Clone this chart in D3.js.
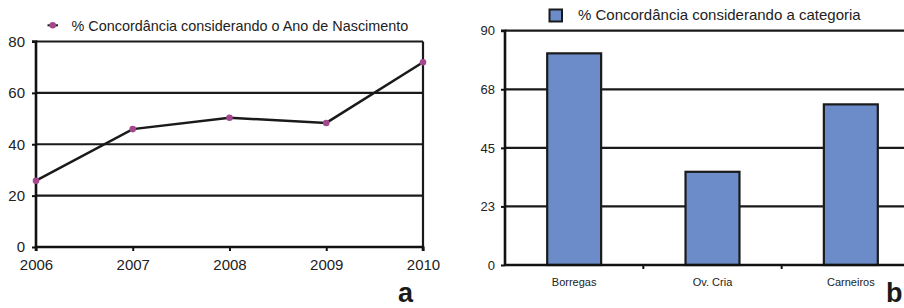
<!DOCTYPE html>
<html><head><meta charset="utf-8">
<script src="https://cdn.jsdelivr.net/npm/d3@7"></script>
<style>body{margin:0;background:#fff}svg{display:block;font-family:Arial,"Liberation Sans",sans-serif}</style>
</head><body><svg id="c" width="904" height="308"></svg>
<script>
const years = [2006, 2007, 2008, 2009, 2010];
const yearValues = [25.8, 45.9, 50.3, 48.3, 71.9];
const leftTicks = [0, 20, 40, 60, 80];
const leftLegend = "% Concordância considerando o Ano de Nascimento";

const categories = ["Borregas", "Ov. Cria", "Carneiros"];
const catValues = [81.3, 35.8, 61.7];
const rightTicks = [0, 22.5, 45, 67.5, 90];
const rightTickLabels = ["0", "23", "45", "68", "90"];
const rightLegend = "% Concordância considerando a categoria";

const svg = d3.select("#c");
const txt = "#222";

// ----- Left chart (a) -----
const xa = d3.scalePoint().domain(years).range([36, 423]);
const ya = d3.scaleLinear().domain([0, 80]).range([247, 41.5]);
const ga = svg.append("g");
ga.selectAll("line.g").data(leftTicks.slice(1)).join("line")
  .attr("x1", 36).attr("x2", 423).attr("y1", d => ya(d)).attr("y2", d => ya(d))
  .attr("stroke", "#1a1a1a").attr("stroke-width", 2.2);
ga.append("line").attr("x1", 423).attr("x2", 423).attr("y1", ya(80)).attr("y2", ya(0))
  .attr("stroke", "#1a1a1a").attr("stroke-width", 2.2);
const axLeft = ga.append("g").attr("transform", "translate(36,0)")
  .call(d3.axisLeft(ya).tickValues(leftTicks).tickSize(4).tickPadding(7));
const axBot = ga.append("g").attr("transform", `translate(0,${ya(0)})`)
  .call(d3.axisBottom(xa).tickSize(4).tickPadding(6).tickFormat(d3.format("d")));
[axLeft, axBot].forEach(a => {
  a.select(".domain").attr("stroke", "#111").attr("stroke-width", 2.6);
  a.selectAll(".tick line").attr("stroke", "#111").attr("stroke-width", 2);
  a.selectAll("text").attr("fill", txt).style("font-size", "15px");
});
axLeft.select(".domain").attr("d", `M-4,${ya(80)}H0V${ya(0)}`);
axBot.select(".domain").attr("d", `M36,4V0H423V4`);
axBot.selectAll("text").attr("dy", "0.85em");
ga.append("path").datum(years.map((y, i) => [y, yearValues[i]]))
  .attr("fill", "none").attr("stroke", "#1a1a1a").attr("stroke-width", 2.5)
  .attr("d", d3.line().x(d => xa(d[0])).y(d => ya(d[1])));
ga.selectAll("circle").data(years.map((y, i) => [y, yearValues[i]])).join("circle")
  .attr("cx", d => xa(d[0])).attr("cy", d => ya(d[1])).attr("r", 3.3)
  .attr("fill", "#a3478f");
// legend
ga.append("line").attr("x1", 47.5).attr("x2", 58).attr("y1", 25.3).attr("y2", 25.3)
  .attr("stroke", "#1a1a1a").attr("stroke-width", 2);
ga.append("circle").attr("cx", 52.7).attr("cy", 25.3).attr("r", 3.3).attr("fill", "#a3478f");
ga.append("text").attr("x", 71.5).attr("y", 30.8).attr("fill", txt)
  .style("font-size", "14.4px").text(leftLegend);
ga.append("text").attr("x", 398).attr("y", 302).attr("fill", "#1a1a1a")
  .style("font-size", "27px").style("font-weight", "bold").text("a");

// ----- Right chart (b) -----
const xb = d3.scaleBand().domain(categories).range([505, 920]).paddingInner(0.61).paddingOuter(0.305);
const yb = d3.scaleLinear().domain([0, 90]).range([265, 30.7]);
const gb = svg.append("g");
gb.selectAll("line.g").data(rightTicks.slice(1)).join("line")
  .attr("x1", 505).attr("x2", 920).attr("y1", d => yb(d)).attr("y2", d => yb(d))
  .attr("stroke", "#1a1a1a").attr("stroke-width", 2.2);
gb.selectAll("rect").data(categories).join("rect")
  .attr("x", d => xb(d)).attr("width", xb.bandwidth())
  .attr("y", (d, i) => yb(catValues[i])).attr("height", (d, i) => yb(0) - yb(catValues[i]))
  .attr("fill", "#6b8cc8").attr("stroke", "#1a1a1a").attr("stroke-width", 2.2);
const bLeft = gb.append("g").attr("transform", "translate(505,0)")
  .call(d3.axisLeft(yb).tickValues(rightTicks).tickFormat((d, i) => rightTickLabels[i]).tickSize(4).tickPadding(6));
const catX = d3.scaleLinear().domain([0, 3]).range([505, 920]);
const bBot = gb.append("g").attr("transform", `translate(0,${yb(0)})`);
bBot.append("path").attr("d", `M505,0H920`).attr("stroke", "#111").attr("stroke-width", 2.6).attr("fill", "none");
bBot.selectAll("line").data([1, 2]).join("line")
  .attr("x1", d => catX(d)).attr("x2", d => catX(d)).attr("y1", 0).attr("y2", 4)
  .attr("stroke", "#111").attr("stroke-width", 2);
bBot.selectAll("text").data(categories).join("text")
  .attr("x", d => xb(d) + xb.bandwidth() / 2).attr("y", 21).attr("text-anchor", "middle")
  .attr("fill", txt).style("font-size", "11px").text(d => d);
bLeft.select(".domain").attr("stroke", "#111").attr("stroke-width", 2.6).attr("d", `M-4,${yb(90)}H0V${yb(0)}`);
bLeft.selectAll(".tick line").attr("stroke", "#111").attr("stroke-width", 2);
bLeft.selectAll("text").attr("fill", txt).style("font-size", "13px");
// legend
gb.append("rect").attr("x", 549.5).attr("y", 9.5).attr("width", 12.5).attr("height", 12)
  .attr("fill", "#6b8cc8").attr("stroke", "#1a1a1a").attr("stroke-width", 2);
gb.append("text").attr("x", 578).attr("y", 19.8).attr("fill", txt)
  .style("font-size", "15px").text(rightLegend);
gb.append("text").attr("x", 886).attr("y", 302).attr("fill", "#1a1a1a")
  .style("font-size", "27px").style("font-weight", "bold").text("b");
</script></body></html>
